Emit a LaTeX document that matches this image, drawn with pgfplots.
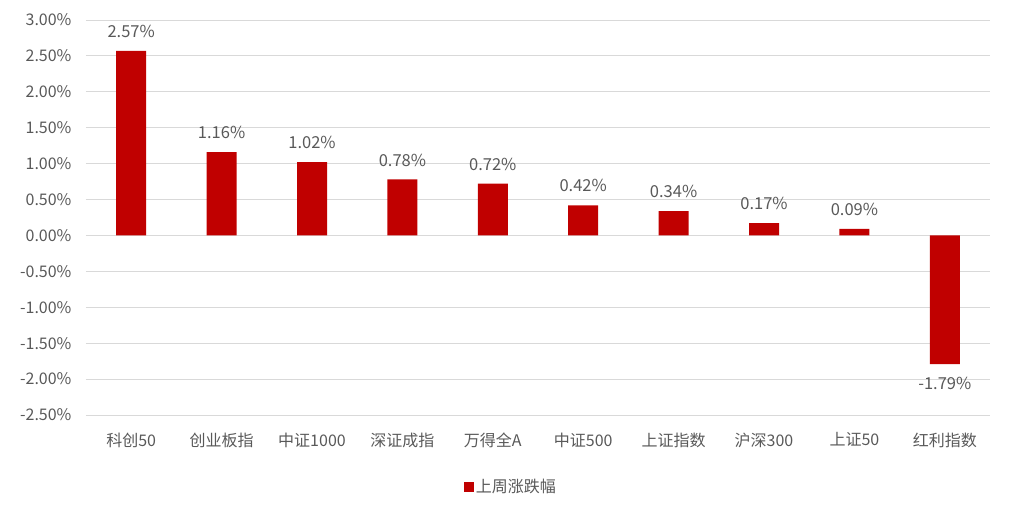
\documentclass[border=0pt]{standalone}
\usepackage{pgfplots}
\pgfplotsset{compat=1.18}
\usepackage{fontspec}
\setmainfont{Noto Sans CJK SC}
\definecolor{barred}{HTML}{C00000}
\definecolor{txt}{HTML}{595959}
\definecolor{gridc}{HTML}{D9D9D9}
\begin{document}
\begin{tikzpicture}
\path[use as bounding box] (-86pt,-98pt) rectangle (926pt,415pt);
\begin{axis}[
  at={(0pt,0pt)}, anchor=south west,
  scale only axis, width=904pt, height=395pt,
  ymin=-2.5, ymax=3,
  ytick={-2.5,-2,-1.5,-1,-0.5,0,0.5,1,1.5,2,2.5,3},
  xmin=-0.5, xmax=9.5,
  xtick=data,
  xticklabels={科创50,创业板指,中证1000,深证成指,万得全A,中证500,上证指数,沪深300,上证50,红利指数},
  ybar, bar width=30pt,
  axis line style={draw=none}, tick style={draw=none},
  ymajorgrids, grid style={gridc, line width=0.9pt},
  /pgf/number format/assume math mode=true,
  yticklabel={\pgfmathprintnumber[fixed,fixed zerofill,precision=2]{\tick}\%},
  ticklabel style={font=\fontsize{16}{18}\selectfont, text=txt},
  yticklabel style={xshift=-11pt},
  xticklabel style={yshift=-10pt},
  nodes near coords={\pgfmathprintnumber[fixed,fixed zerofill,precision=2]{\pgfplotspointmeta}\%},
  nodes near coords style={font=\fontsize{16.5}{18}\selectfont, text=txt, inner sep=13pt},
  legend style={draw=none, at={(0.47,-0.182)}, anchor=center, font=\fontsize{16}{18}\selectfont, text=txt},
  legend image code/.code={\fill[barred] (0pt,-5pt) rectangle (10pt,5pt);},
]
\addplot[fill=barred, draw=none] coordinates {
(0,2.57) (1,1.16) (2,1.02) (3,0.78) (4,0.72) (5,0.42) (6,0.34) (7,0.17) (8,0.09) (9,-1.79)};
\addlegendentry{上周涨跌幅}
\end{axis}
\end{tikzpicture}
\end{document}
